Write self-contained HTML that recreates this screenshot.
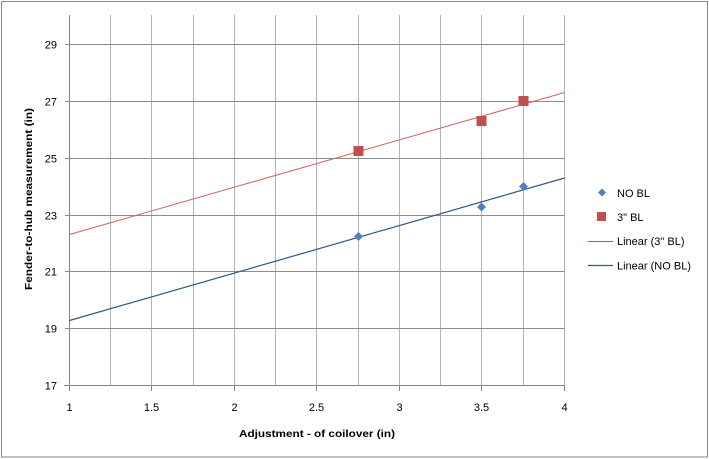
<!DOCTYPE html>
<html><head><meta charset="utf-8"><style>
html,body{margin:0;padding:0;background:#fff;}
svg{display:block;}
text{font-family:"Liberation Sans",sans-serif;fill:#000;}
</style></head><body>
<svg width="709" height="459" viewBox="0 0 709 459" xmlns="http://www.w3.org/2000/svg">
<rect x="0" y="0" width="709" height="459" fill="#fff"/>
<rect x="1.5" y="1.5" width="706" height="455.5" fill="none" stroke="#878787" stroke-width="1"/>
<g stroke="#b4b4b4" stroke-width="1">
<line x1="110.5" y1="15" x2="110.5" y2="385"/>
<line x1="151.5" y1="15" x2="151.5" y2="385"/>
<line x1="193.5" y1="15" x2="193.5" y2="385"/>
<line x1="234.5" y1="15" x2="234.5" y2="385"/>
<line x1="275.5" y1="15" x2="275.5" y2="385"/>
<line x1="316.5" y1="15" x2="316.5" y2="385"/>
<line x1="358.5" y1="15" x2="358.5" y2="385"/>
<line x1="399.5" y1="15" x2="399.5" y2="385"/>
<line x1="440.5" y1="15" x2="440.5" y2="385"/>
<line x1="481.5" y1="15" x2="481.5" y2="385"/>
<line x1="523.5" y1="15" x2="523.5" y2="385"/>
<line x1="564.5" y1="15" x2="564.5" y2="385"/>
</g>
<g stroke="#8c8c8c" stroke-width="1">
<line x1="65" y1="44.5" x2="565" y2="44.5"/>
<line x1="65" y1="101.5" x2="565" y2="101.5"/>
<line x1="65" y1="158.5" x2="565" y2="158.5"/>
<line x1="65" y1="215.5" x2="565" y2="215.5"/>
<line x1="65" y1="271.5" x2="565" y2="271.5"/>
<line x1="65" y1="328.5" x2="565" y2="328.5"/>
</g>
<g stroke="#868686" stroke-width="1">
<line x1="69.5" y1="15" x2="69.5" y2="391"/>
<line x1="64" y1="385.5" x2="565" y2="385.5"/>
<line x1="151.5" y1="385" x2="151.5" y2="391"/>
<line x1="234.5" y1="385" x2="234.5" y2="391"/>
<line x1="316.5" y1="385" x2="316.5" y2="391"/>
<line x1="399.5" y1="385" x2="399.5" y2="391"/>
<line x1="481.5" y1="385" x2="481.5" y2="391"/>
<line x1="564.5" y1="385" x2="564.5" y2="391"/>
</g>
<g font-size="11" text-anchor="end">
<text x="57" y="48.5">29</text>
<text x="57" y="105.5">27</text>
<text x="57" y="162.5">25</text>
<text x="57" y="219.5">23</text>
<text x="57" y="275.5">21</text>
<text x="57" y="332.5">19</text>
<text x="57" y="389.5">17</text>
</g>
<g font-size="11" text-anchor="middle">
<text x="69.5" y="411">1</text>
<text x="151.5" y="411">1.5</text>
<text x="234.5" y="411">2</text>
<text x="316.5" y="411">2.5</text>
<text x="399.5" y="411">3</text>
<text x="481.5" y="411">3.5</text>
<text x="564.5" y="411">4</text>
</g>
<text x="317" y="437" font-size="10.5" font-weight="bold" text-anchor="middle" textLength="156" lengthAdjust="spacingAndGlyphs">Adjustment - of coilover (in)</text>
<text transform="translate(32,199) rotate(-90)" font-size="10.5" font-weight="bold" text-anchor="middle" textLength="182" lengthAdjust="spacingAndGlyphs">Fender-to-hub measurement (in)</text>
<line x1="69.5" y1="234.5" x2="564.5" y2="92.5" stroke="#d0605e" stroke-width="1"/>
<line x1="69.5" y1="320.5" x2="564.5" y2="178" stroke="#2f5884" stroke-width="1.2"/>
<g fill="#c0504d">
<rect x="353.5" y="146" width="10" height="10"/>
<rect x="476.5" y="116" width="10" height="10"/>
<rect x="518.5" y="96" width="10" height="10"/>
</g>
<g fill="#4f81bd">
<polygon points="358.5,232 363,236.5 358.5,241 354,236.5"/>
<polygon points="481.5,202.5 486,207 481.5,211.5 477,207"/>
<polygon points="523.5,182 528,186.5 523.5,191 519,186.5"/>
</g>
<polygon points="602,188.5 606,192.5 602,196.5 598,192.5" fill="#4f81bd"/>
<text x="617" y="197" font-size="11">NO BL</text>
<rect x="597" y="212" width="9" height="9" fill="#c0504d"/>
<text x="617" y="221" font-size="11">3" BL</text>
<line x1="588" y1="241.5" x2="613" y2="241.5" stroke="#c0504d" stroke-width="1"/>
<text x="617" y="245" font-size="11">Linear (3" BL)</text>
<line x1="588" y1="265.5" x2="613" y2="265.5" stroke="#2f5884" stroke-width="1.2"/>
<text x="617" y="269.5" font-size="11">Linear (NO BL)</text>
</svg>
</body></html>
